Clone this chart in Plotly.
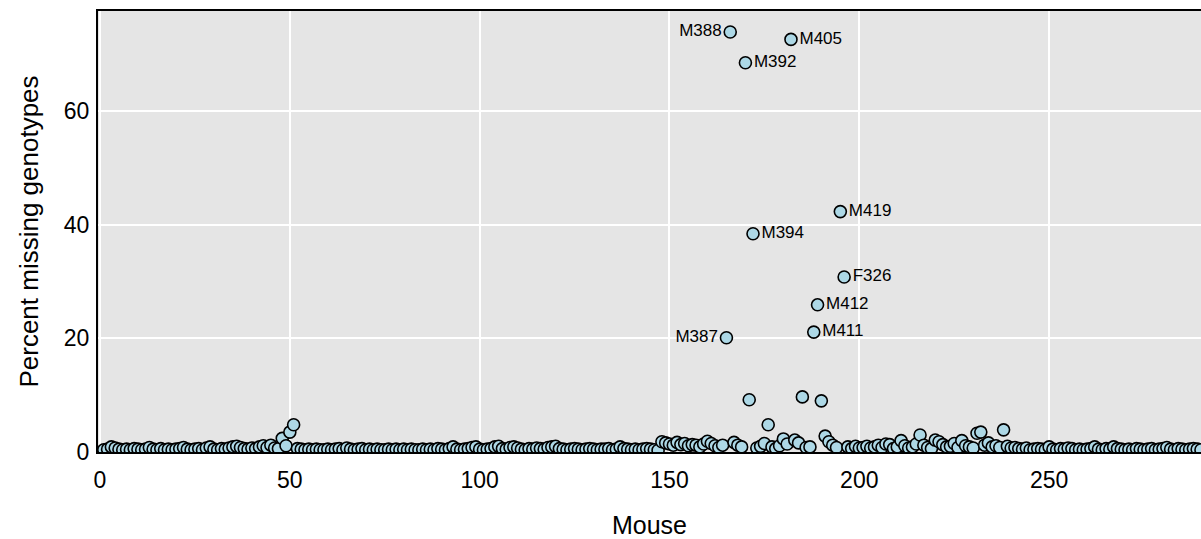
import plotly.graph_objects as go

# Percent missing genotypes per mouse (mouse index 1..290)
missing_pct = [
    0.4, 0.5, 0.9, 0.7, 0.5, 0.4, 0.5, 0.4, 0.6, 0.5,
    0.4, 0.5, 0.8, 0.5, 0.4, 0.6, 0.4, 0.5, 0.4, 0.5,
    0.6, 0.8, 0.5, 0.4, 0.5, 0.6, 0.4, 0.7, 0.9, 0.5,
    0.4, 0.6, 0.5, 0.7, 0.9, 1.0, 0.8, 0.6, 0.5, 0.7,
    0.6, 0.9, 1.1, 0.8, 1.2, 0.7, 0.6, 2.4, 1.1, 3.5,
    4.8, 0.6, 0.5, 0.4, 0.5, 0.4, 0.5, 0.4, 0.4, 0.5,
    0.4, 0.5, 0.6, 0.4, 0.7, 0.5, 0.4, 0.5, 0.6, 0.4,
    0.5, 0.4, 0.5, 0.4, 0.4, 0.5, 0.4, 0.5, 0.4, 0.5,
    0.4, 0.5, 0.4, 0.4, 0.5, 0.4, 0.5, 0.4, 0.6, 0.5,
    0.4, 0.6, 0.9, 0.5, 0.4, 0.5, 0.6, 0.8, 0.9, 0.5,
    0.4, 0.5, 0.6, 0.9, 1.0, 0.6, 0.5, 0.8, 0.9, 0.7,
    0.5, 0.4, 0.6, 0.5, 0.7, 0.6, 0.5, 0.8, 0.9, 1.0,
    0.6, 0.5, 0.4, 0.5, 0.6, 0.5, 0.4, 0.5, 0.6, 0.5,
    0.4, 0.5, 0.5, 0.6, 0.4, 0.5, 0.9, 0.6, 0.5, 0.4,
    0.5, 0.4, 0.5, 0.6, 0.5, 0.4, 0.3, 1.8, 1.6, 1.4,
    1.2, 1.7, 1.3, 1.5, 1.1, 1.3, 1.2, 0.9, 1.4, 1.9,
    1.5, 1.1, 0.8, 1.2, 20.1, 73.9, 1.7, 1.2, 0.9, 68.5,
    9.2, 38.4, 0.7, 1.0, 1.5, 4.8, 0.9, 0.6, 1.1, 2.3,
    1.4, 72.6, 2.1, 1.6, 9.7, 0.8, 0.9, 21.1, 25.9, 9.0,
    2.8, 1.8, 1.2, 0.8, 42.3, 30.8, 0.9, 0.6, 1.0, 0.7,
    0.8, 1.0, 0.7, 0.9, 1.2, 0.8, 1.4, 1.3, 0.6, 0.9,
    2.0, 1.1, 0.7, 0.9, 1.4, 3.0, 1.2, 0.8, 0.6, 2.1,
    1.8, 1.3, 0.9, 1.0, 1.5, 0.8, 2.0, 1.1, 0.9, 0.7,
    3.3, 3.5, 1.2, 1.6, 0.9, 1.1, 0.8, 3.9, 1.0, 0.7,
    0.8, 0.6, 0.5, 0.7, 0.4, 0.5, 0.6, 0.5, 0.4, 0.9,
    0.5, 0.4, 0.6, 0.5, 0.7, 0.6, 0.4, 0.5, 0.4, 0.5,
    0.6, 0.9, 0.5, 0.4, 0.6, 0.5, 0.9, 0.6, 0.5, 0.4,
    0.5, 0.4, 0.6, 0.5, 0.4, 0.5, 0.6, 0.4, 0.5, 0.6,
    0.8, 0.5, 0.4, 0.6, 0.5, 0.4, 0.5, 0.6, 0.5, 0.4,
]
mouse_index = list(range(1, len(missing_pct) + 1))

# Labelled outliers
label_names = ["M388", "M405", "M392", "M419", "M394", "F326", "M412", "M411", "M387"]
label_index = [166, 182, 170, 195, 172, 196, 189, 188, 165]
label_side = ["middle left", "middle right", "middle right", "middle right", "middle right",
              "middle right", "middle right", "middle right", "middle left"]

FONT = "Liberation Sans, Arial, sans-serif"

fig = go.Figure()
fig.add_trace(go.Scatter(
    x=mouse_index, y=missing_pct, mode="markers",
    marker=dict(size=12, color="#add8e6", line=dict(color="black", width=1.6)),
    showlegend=False, hoverinfo="x+y",
))
fig.add_trace(go.Scatter(
    x=label_index,
    y=[missing_pct[i - 1] for i in label_index],
    mode="text", text=["\u2002" + n + "\u2002" for n in label_names],
    textposition=label_side,
    textfont=dict(family=FONT, size=17, color="black"),
    showlegend=False, hoverinfo="skip",
))

fig.update_layout(
    width=1201, height=539,
    margin=dict(l=98, r=0, t=11, b=87),
    paper_bgcolor="white", plot_bgcolor="#e5e5e5",
    font=dict(family=FONT, color="black"),
)
fig.update_xaxes(
    range=[-0.53, 290.0], tickvals=[0, 50, 100, 150, 200, 250],
    showgrid=True, gridcolor="white", gridwidth=2, zeroline=False,
    showline=True, linecolor="black", linewidth=2, mirror=True,
    tickfont=dict(size=23), ticks="", ticklabelstandoff=6,
    title=dict(text="Mouse", font=dict(size=25), standoff=25),
)
fig.update_yaxes(
    range=[0, 77.6], tickvals=[0, 20, 40, 60],
    showgrid=True, gridcolor="white", gridwidth=2, zeroline=False,
    showline=True, linecolor="black", linewidth=2, mirror=False,
    tickfont=dict(size=23), ticks="", ticklabelstandoff=2,
    title=dict(text="Percent missing genotypes", font=dict(size=26), standoff=18),
)

fig.write_html("out.html")
